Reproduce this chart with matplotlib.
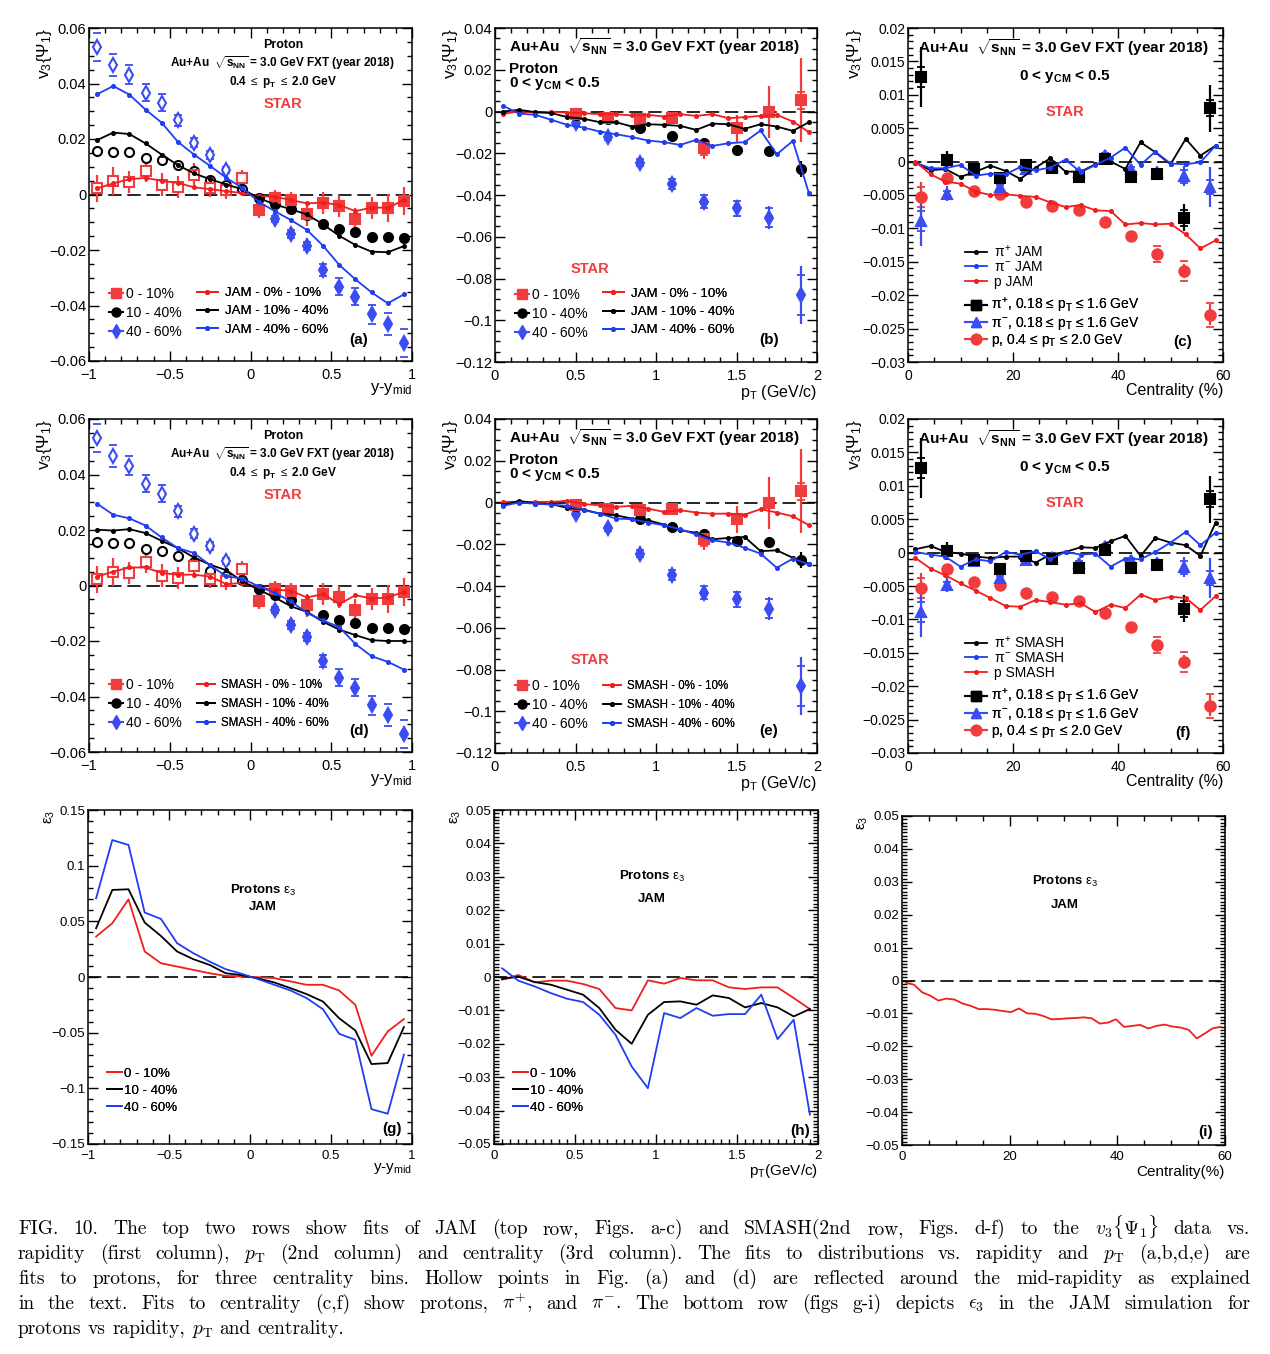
import numpy as np
import matplotlib
matplotlib.use('Agg')
import matplotlib.pyplot as plt
from matplotlib.ticker import MultipleLocator, FuncFormatter
from matplotlib.lines import Line2D

plt.rcParams['font.family'] = ['Liberation Sans', 'DejaVu Sans']
plt.rcParams['mathtext.fontset'] = 'custom'
plt.rcParams['mathtext.rm'] = 'Liberation Sans'
plt.rcParams['mathtext.it'] = 'Liberation Sans'
plt.rcParams['mathtext.bf'] = 'Liberation Sans:bold'
plt.rcParams['mathtext.sf'] = 'Liberation Sans'
plt.rcParams['axes.unicode_minus'] = True

# ---------------- DATA ----------------
# rapidity bins (y - y_mid)
y_bins = [-0.95, -0.85, -0.75, -0.65, -0.55, -0.45, -0.35, -0.25, -0.15, -0.05,
          0.05, 0.15, 0.25, 0.35, 0.45, 0.55, 0.65, 0.75, 0.85, 0.95]
# STAR proton v3 vs rapidity
star_y_0010 = [0.0022, 0.0048, 0.0046, 0.0086, 0.0036, 0.0028, 0.0072, 0.0022, 0.0015, 0.0058,
               -0.0056, -0.0012, -0.0020, -0.0072, -0.0032, -0.0040, -0.0089, -0.0048, -0.0048, -0.0024]
star_y_0010_err = [0.005, 0.005, 0.004, 0.004, 0.004, 0.004, 0.004, 0.003, 0.003, 0.003,
                   0.003, 0.003, 0.003, 0.004, 0.004, 0.004, 0.004, 0.004, 0.005, 0.005]
star_y_1040 = [0.0156, 0.0154, 0.0154, 0.0133, 0.0124, 0.0108, 0.0086, 0.0053, 0.0036, 0.0019,
               -0.0014, -0.0036, -0.0053, -0.0074, -0.0108, -0.0126, -0.0136, -0.0154, -0.0154, -0.0157]
star_y_1040_err = [0.0005] * 20
star_y_4060 = [0.0532, 0.0468, 0.0432, 0.0367, 0.0331, 0.0268, 0.0187, 0.0142, 0.0088, 0.0052,
               -0.0050, -0.0089, -0.0143, -0.0185, -0.0272, -0.0332, -0.0368, -0.0432, -0.0468, -0.0534]
star_y_4060_err = [0.0008] * 20
star_y_4060_sys = [0.005, 0.004, 0.0035, 0.003, 0.003, 0.002, 0.0015, 0.0015, 0.001, 0.001,
                   0.001, 0.001, 0.0015, 0.0015, 0.002, 0.003, 0.003, 0.0035, 0.004, 0.005]

# JAM / SMASH model v3 vs rapidity
jam_y_0010 = [0.0022, 0.0040, 0.0055, 0.0060, 0.0049, 0.0042, 0.0026, 0.0019, 0.0012, 0.0005,
              -0.0006, -0.0008, -0.0020, -0.0032, -0.0029, -0.0038, -0.0060, -0.0047, -0.0048, -0.0020]
jam_y_1040 = [0.0196, 0.0223, 0.0218, 0.0184, 0.0144, 0.0106, 0.0076, 0.0055, 0.0036, 0.0019,
              -0.0012, -0.0036, -0.0053, -0.0072, -0.0108, -0.0149, -0.0182, -0.0206, -0.0208, -0.0186]
jam_y_4060 = [0.0361, 0.0391, 0.0360, 0.0306, 0.0259, 0.0190, 0.0144, 0.0103, 0.0060, 0.0024,
              -0.0026, -0.0060, -0.0092, -0.0128, -0.0185, -0.0254, -0.0306, -0.0353, -0.0392, -0.0360]
smash_y_0010 = [0.0032, 0.0050, 0.0065, 0.0065, 0.0045, 0.0039, 0.0039, 0.0032, 0.0005, 0.0009,
                -0.0007, -0.0015, -0.0019, -0.0043, -0.0031, -0.0067, -0.0035, -0.0047, -0.0043, -0.0023]
smash_y_1040 = [0.0201, 0.0198, 0.0203, 0.0189, 0.0161, 0.0135, 0.0101, 0.0075, 0.0055, 0.0015,
                -0.0015, -0.0043, -0.0075, -0.0095, -0.0131, -0.0159, -0.0179, -0.0197, -0.0200, -0.0200]
smash_y_4060 = [0.0295, 0.0255, 0.0242, 0.0216, 0.0173, 0.0135, 0.0117, 0.0073, 0.0033, 0.0025,
                -0.0003, -0.0027, -0.0057, -0.0099, -0.0126, -0.0150, -0.0211, -0.0255, -0.0275, -0.0303]

# STAR proton v3 vs pT
pt_star = [0.5, 0.7, 0.9, 1.1, 1.3, 1.5, 1.7, 1.9]
star_pt_0010 = [-0.0010, -0.0030, -0.0035, -0.0032, -0.0176, -0.0080, -0.0003, 0.0054]
star_pt_0010_err = [0.001, 0.0015, 0.002, 0.003, 0.005, 0.0065, 0.0125, 0.020]
star_pt_0010_sys = [0.0005, 0.0008, 0.001, 0.0015, 0.003, 0.002, 0.002, 0.004]
star_pt_1040 = [-0.0016, -0.0037, -0.0080, -0.0115, -0.0149, -0.0186, -0.0189, -0.0275]
star_pt_1040_err = [0.0005, 0.0006, 0.0007, 0.0008, 0.001, 0.0012, 0.002, 0.004]
star_pt_4060 = [-0.0056, -0.0123, -0.0245, -0.0346, -0.0432, -0.0464, -0.0509, -0.0880]
star_pt_4060_err = [0.001, 0.0012, 0.0015, 0.002, 0.0025, 0.004, 0.0055, 0.014]
star_pt_4060_sys = [0.001, 0.0012, 0.0018, 0.0025, 0.003, 0.0035, 0.0045, 0.0095]

# model v3 vs pT
pt_mod = [0.05, 0.15, 0.25, 0.35, 0.45, 0.55, 0.65, 0.75, 0.85, 0.95,
          1.05, 1.15, 1.25, 1.35, 1.45, 1.55, 1.65, 1.75, 1.85, 1.95]
jam_pt_0010 = [-0.0011, 0.0000, -0.0005, -0.0002, -0.0005, -0.0008, -0.0013, -0.0013, -0.0019, -0.0016,
               -0.0024, -0.0013, -0.0021, -0.0013, -0.0032, -0.0027, -0.0021, -0.0016, -0.0048, -0.0099]
jam_pt_1040 = [0.0000, 0.0008, -0.0003, -0.0008, -0.0027, -0.0035, -0.0051, -0.0051, -0.0072, -0.0061,
               -0.0064, -0.0069, -0.0088, -0.0058, -0.0061, -0.0083, -0.0061, -0.0072, -0.0093, -0.0051]
jam_pt_4060 = [0.0027, -0.0010, -0.0016, -0.0040, -0.0064, -0.0077, -0.0096, -0.0109, -0.0122, -0.0139,
               -0.0147, -0.0160, -0.0136, -0.0165, -0.0152, -0.0147, -0.0091, -0.0205, -0.0141, -0.0392]
smash_pt_0010 = [0.0003, 0.0003, 0.0003, 0.0003, 0.0008, -0.0008, -0.0013, -0.0021, -0.0016, -0.0029,
                 -0.0045, -0.0037, -0.0048, -0.0054, -0.0053, -0.0058, -0.0032, -0.0048, -0.0066, -0.0109]
smash_pt_1040 = [-0.0013, 0.0008, -0.0005, -0.0008, -0.0026, -0.0034, -0.0053, -0.0061, -0.0077, -0.0085,
                 -0.0106, -0.0133, -0.0145, -0.0176, -0.0170, -0.0165, -0.0233, -0.0229, -0.0265, -0.0293]
smash_pt_4060 = [-0.0016, 0.0000, -0.0006, -0.0010, -0.0016, -0.0037, -0.0053, -0.0077, -0.0080, -0.0096,
                 -0.0109, -0.0128, -0.0153, -0.0181, -0.0192, -0.0217, -0.0245, -0.0313, -0.0269, -0.0297]

# STAR v3 vs centrality
cent_star = [2.5, 7.5, 12.5, 17.5, 22.5, 27.5, 32.5, 37.5, 42.5, 47.5, 52.5, 57.5]
star_c_pip = [0.0126, 0.00025, -0.0011, -0.0025, -0.0005, -0.0009, -0.0023, 0.0004, -0.0023, -0.0018, -0.0084, 0.0080]
star_c_pip_err = [0.0045, 0.0013, 0.0008, 0.0008, 0.0006, 0.0006, 0.0006, 0.0006, 0.0008, 0.0009, 0.0020, 0.0035]
star_c_pip_sys = [0.0015, 0.0004, 0.0003, 0.0003, 0.0003, 0.0003, 0.0003, 0.0003, 0.0003, 0.0004, 0.0012, 0.0012]
star_c_pim = [-0.0089, -0.0048, -0.0013, -0.0038, -0.0011, -0.0006, -0.0016, 0.0010, -0.0011, -0.0016, -0.0022, -0.0038]
star_c_pim_err = [0.0037, 0.0011, 0.0008, 0.0008, 0.0006, 0.0006, 0.0006, 0.0006, 0.0008, 0.0009, 0.0015, 0.0030]
star_c_pim_sys = [0.0015, 0.0004, 0.0003, 0.0003, 0.0003, 0.0003, 0.0003, 0.0003, 0.0003, 0.0004, 0.0010, 0.0010]
star_c_p = [-0.0053, -0.0025, -0.0044, -0.0048, -0.0060, -0.0066, -0.0073, -0.0090, -0.0112, -0.0139, -0.0164, -0.0229]
star_c_p_err = [0.0023, 0.0005, 0.0004, 0.0004, 0.0004, 0.0004, 0.0004, 0.0005, 0.0005, 0.0008, 0.0010, 0.0016]
star_c_p_sys = [0.0015, 0.0003, 0.0003, 0.0003, 0.0003, 0.0003, 0.0003, 0.0004, 0.0005, 0.0012, 0.0015, 0.0018]

# model v3 vs centrality
cent_mod = [1.4, 4.3, 7.1, 10.0, 12.9, 15.7, 18.6, 21.4, 24.3, 27.1, 30.0,
            32.9, 35.7, 38.6, 41.4, 44.3, 47.1, 50.0, 52.9, 55.7, 58.6]
jam_c_pip = [-0.00015, -0.0013, -0.0011, -0.0023, -0.0015, -0.0006, -0.0014, -0.0026, -0.0009, 0.0005, -0.0015,
             -0.0015, -0.0004, 0.0000, -0.0011, 0.0029, 0.0014, -0.0004, 0.0034, 0.0009, 0.0024]
jam_c_pim = [-0.00015, -0.0010, -0.0010, -0.0005, -0.0021, -0.0018, -0.0019, -0.0008, -0.0013, -0.0009, 0.0003,
             -0.0016, -0.0005, 0.0006, 0.0021, -0.0005, 0.0015, -0.0003, -0.0004, -0.0001, 0.0024]
jam_c_p = [0.0000, -0.0019, -0.0030, -0.0033, -0.0045, -0.0050, -0.0049, -0.0051, -0.0053, -0.0061, -0.0068,
           -0.0065, -0.0073, -0.0074, -0.0094, -0.0092, -0.0094, -0.0093, -0.0109, -0.0130, -0.0118]
smash_c_pip = [0.0005, 0.0010, 0.0001, -0.00015, -0.0006, -0.0008, -0.0006, -0.0006, -0.0015, -0.0003, 0.0001,
               0.0008, 0.0007, 0.0017, 0.0025, -0.0005, 0.0022, 0.0015, 0.0011, -0.0005, 0.0045]
smash_c_pim = [0.0001, -0.0003, -0.0006, -0.0021, -0.0010, -0.0013, 0.0001, -0.0003, 0.0002, -0.0010, 0.0001,
               -0.0003, -0.00015, -0.0021, -0.0009, -0.0010, 0.0001, 0.0015, 0.0031, 0.0011, 0.0030]
smash_c_p = [-0.0008, -0.0024, -0.0034, -0.0046, -0.0057, -0.0068, -0.0080, -0.0081, -0.0071, -0.0074, -0.0078,
             -0.0076, -0.0089, -0.0078, -0.0083, -0.0063, -0.0071, -0.0066, -0.0068, -0.0086, -0.0065]

# JAM epsilon_3
eps_y_0010 = [0.0363, 0.0483, 0.0698, 0.0229, 0.0124, 0.0094, 0.0064, 0.0034, 0.0010, 0.0004,
              -0.0002, -0.0010, -0.0040, -0.0070, -0.0070, -0.0121, -0.0250, -0.0707, -0.0489, -0.0378]
eps_y_1040 = [0.0438, 0.0782, 0.0788, 0.0489, 0.0369, 0.0229, 0.0160, 0.0109, 0.0034, 0.0016,
              -0.0013, -0.0049, -0.0100, -0.0154, -0.0220, -0.0370, -0.0480, -0.0782, -0.0773, -0.0450]
eps_y_4060 = [0.0707, 0.1230, 0.1186, 0.0579, 0.0522, 0.0304, 0.0214, 0.0139, 0.0070, 0.0028,
              -0.0019, -0.0070, -0.0121, -0.0190, -0.0289, -0.0510, -0.0564, -0.1187, -0.1228, -0.0698]
eps_pt_0010 = [-0.0008, 0.0006, -0.0016, -0.0011, -0.0011, -0.0021, -0.0036, -0.0093, -0.0100, -0.0010,
               -0.0020, -0.0003, -0.0010, -0.0010, -0.0031, -0.0036, -0.0031, -0.0031, -0.0063, -0.0096]
eps_pt_1040 = [-0.0006, 0.0001, -0.0015, -0.0023, -0.0038, -0.0053, -0.0093, -0.0158, -0.0200, -0.0113,
               -0.0075, -0.0073, -0.0083, -0.0055, -0.0063, -0.0091, -0.0078, -0.0091, -0.0118, -0.0096]
eps_pt_4060 = [0.0026, -0.0011, -0.0028, -0.0048, -0.0065, -0.0075, -0.0113, -0.0173, -0.0268, -0.0333,
               -0.0108, -0.0123, -0.0093, -0.0116, -0.0111, -0.0111, -0.0053, -0.0186, -0.0128, -0.0412]
cent_eps = [0.75, 2.25, 3.75, 5.25, 6.75, 8.25, 9.75, 11.25, 12.75, 14.25, 15.75, 17.25, 18.75, 20.25,
            21.75, 23.25, 24.75, 26.25, 27.75, 29.25, 30.75, 32.25, 33.75, 35.25, 36.75, 38.25, 39.75,
            41.25, 42.75, 44.25, 45.75, 47.25, 48.75, 50.25, 51.75, 53.25, 54.75, 56.25, 57.75, 59.25]
eps_cent = [-0.0007, -0.0013, -0.0036, -0.0046, -0.0061, -0.0055, -0.0058, -0.0070, -0.0077, -0.0087,
            -0.0087, -0.0089, -0.0093, -0.0096, -0.0085, -0.0100, -0.0101, -0.0108, -0.0118, -0.0117,
            -0.0115, -0.0114, -0.0112, -0.0115, -0.0131, -0.0128, -0.0118, -0.0141, -0.0138, -0.0135,
            -0.0146, -0.0138, -0.0134, -0.0140, -0.0143, -0.0150, -0.0176, -0.0161, -0.0145, -0.0141]

cent_labels = ['0 - 10%', '10 - 40%', '40 - 60%']

# ---------------- STYLE ----------------
RED = '#f03c3c'
RED_M = '#f01e1e'
BLUE = '#3a4cf2'
BLUE_M = '#1f3ef2'
W, H = 1270, 1354

fig = plt.figure(figsize=(W / 100, H / 100), dpi=100)


def px_axes(l, t, r, b):
    return fig.add_axes([l / W, 1 - b / H, (r - l) / W, (b - t) / H])


def tick_fmt(v, pos):
    s = '%g' % round(v, 6)
    if s in ('-0', '0'):
        return '0'
    return s.replace('-', '\u2212')


def style(ax, xlim, ylim, xmaj, xmin, ymaj, ymin, fs=10.5, zero=True, xpad=5):
    ax.set_xlim(*xlim)
    ax.set_ylim(*ylim)
    ax.xaxis.set_major_locator(MultipleLocator(xmaj))
    ax.xaxis.set_minor_locator(MultipleLocator(xmin))
    ax.yaxis.set_major_locator(MultipleLocator(ymaj))
    ax.yaxis.set_minor_locator(MultipleLocator(ymin))
    ax.xaxis.set_major_formatter(FuncFormatter(tick_fmt))
    ax.yaxis.set_major_formatter(FuncFormatter(tick_fmt))
    ax.tick_params(which='both', direction='in', top=True, right=True, width=1.0)
    ax.tick_params(which='major', length=7, labelsize=fs)
    ax.tick_params(which='minor', length=3.5)
    ax.tick_params(axis='y', pad=2)
    ax.tick_params(axis='x', pad=xpad)
    for sp in ax.spines.values():
        sp.set_linewidth(1.1)
    if zero:
        ax.axhline(0, color='k', lw=1.2, ls=(0, (8, 3.5)), zorder=1)


def ylab(ax, txt, x, fs=12.5):
    ax.text(x, 1.0, txt, rotation=90, ha='center', va='top', transform=ax.transAxes, fontsize=fs)


def xlab(ax, txt, y, fs=12):
    ax.text(1.0, y, txt, ha='right', va='top', transform=ax.transAxes, fontsize=fs)


def data_pts(ax, x, y, err, color, marker, ms, hollow_mask=None, sys=None, zo=4):
    x = np.asarray(x)
    y = np.asarray(y)
    err = np.asarray(err)
    if sys is not None:
        ax.errorbar(x, y, yerr=sys, fmt='none', ecolor=color, elinewidth=0, capsize=3.2,
                    capthick=1.3, zorder=zo)
    if hollow_mask is None:
        hollow_mask = np.zeros(len(x), bool)
    hm = np.asarray(hollow_mask)
    for mask, face in ((~hm, color), (hm, 'white')):
        if mask.any():
            ax.errorbar(x[mask], y[mask], yerr=err[mask], fmt=marker, color=color, mfc=face,
                        mec=color, mew=1.5, ms=ms, elinewidth=1.6, capsize=0, zorder=zo)


def model(ax, x, y, color):
    ax.plot(x, y, '-o', color=color, lw=1.3, ms=2.6, zorder=5)


def legend(ax, handles, labels, x, ytop, fs, hl, htp, ls):
    leg = ax.legend(handles, labels, loc='upper left', bbox_to_anchor=(x, ytop),
                    bbox_transform=ax.transAxes, frameon=False, fontsize=fs, handlelength=hl,
                    handletextpad=htp, labelspacing=ls, borderpad=0, borderaxespad=0)
    ax.add_artist(leg)


def label_bold(ax, x, y, txt, fs, ha='center', color='black'):
    ax.text(x, y, txt, ha=ha, va='center', transform=ax.transAxes, fontsize=fs,
            fontweight='bold', color=color)


h_red = Line2D([], [], color=RED, marker='s', ms=6.5, lw=1.5)
h_blk = Line2D([], [], color='k', marker='o', ms=6.5, lw=1.5)
h_blu = Line2D([], [], color=BLUE, marker='d', ms=7, lw=1.5)
m_red = Line2D([], [], color=RED_M, marker='o', ms=2.6, lw=1.3)
m_blk = Line2D([], [], color='k', marker='o', ms=2.6, lw=1.3)
m_blu = Line2D([], [], color=BLUE_M, marker='o', ms=2.6, lw=1.3)

header = r'Au+Au  $\sqrt{\mathbf{s}_{\mathbf{NN}}}$ = 3.0 GeV FXT (year 2018)'
ycm = r'0 < $\mathbf{y}_{\mathbf{CM}}$ < 0.5'
v3lab = r'v$_{3}${$\Psi_{1}$}'

# ---------------- rapidity panels (a), (d) ----------------
for row, (mod_name, m0, m1, m2, tag, tfs) in enumerate([
        ('JAM', jam_y_0010, jam_y_1040, jam_y_4060, '(a)', 9.5),
        ('SMASH', smash_y_0010, smash_y_1040, smash_y_4060, '(d)', 8.3)]):
    off = row * 391
    ax = px_axes(89, 28 + off, 412, 361 + off)
    style(ax, (-1, 1), (-0.06, 0.06), 0.5, 0.1, 0.02, 0.005)
    hollow = np.asarray(y_bins) < 0
    data_pts(ax, y_bins, star_y_4060, star_y_4060_err, BLUE, 'd', 7, hollow, star_y_4060_sys)
    data_pts(ax, y_bins, star_y_1040, star_y_1040_err, 'k', 'o', 6.5, hollow)
    data_pts(ax, y_bins, star_y_0010, star_y_0010_err, RED, 's', 6.5, hollow)
    model(ax, y_bins, m0, RED_M)
    model(ax, y_bins, m1, 'k')
    model(ax, y_bins, m2, BLUE_M)
    ylab(ax, v3lab, -0.138)
    xlab(ax, r'y-y$_{\rm mid}$', -0.06)
    label_bold(ax, 0.60, 0.949, 'Proton', 9)
    label_bold(ax, 0.60, 0.895, header, 8.5)
    label_bold(ax, 0.60, 0.838, r'0.4 $\leq$ $\mathbf{p}_{\mathbf{T}}$ $\leq$ 2.0 GeV', 8.5)
    label_bold(ax, 0.60, 0.772, 'STAR', 10.5, color=RED)
    label_bold(ax, 0.836, 0.063, tag, 11)
    legend(ax, [h_red, h_blk, h_blu], cent_labels, 0.062, 0.222, 10, 1.0, 0.25, 0.35)
    legend(ax, [m_red, m_blk, m_blu],
           [f'{mod_name} - 0% - 10%', f'{mod_name} - 10% - 40%', f'{mod_name} - 40% - 60%'],
           0.334, 0.222 if row == 0 else 0.219, tfs, 1.6, 0.5, 0.45 if row == 0 else 0.62)

# ---------------- pT panels (b), (e) ----------------
for row, (mod_name, m0, m1, m2, tag, tfs) in enumerate([
        ('JAM', jam_pt_0010, jam_pt_1040, jam_pt_4060, '(b)', 9.5),
        ('SMASH', smash_pt_0010, smash_pt_1040, smash_pt_4060, '(e)', 8.3)]):
    off = row * 391
    ax = px_axes(495, 28 + off, 817, 362 + off)
    style(ax, (0, 2), (-0.12, 0.04), 0.5, 0.1, 0.02, 0.005)
    data_pts(ax, pt_star, star_pt_4060, star_pt_4060_err, BLUE, 'd', 7, sys=star_pt_4060_sys)
    data_pts(ax, pt_star, star_pt_1040, star_pt_1040_err, 'k', 'o', 6.5)
    data_pts(ax, pt_star, star_pt_0010, star_pt_0010_err, RED, 's', 6.5, sys=star_pt_0010_sys)
    model(ax, pt_mod, m0, RED_M)
    model(ax, pt_mod, m1, 'k')
    model(ax, pt_mod, m2, BLUE_M)
    ylab(ax, v3lab, -0.137)
    xlab(ax, r'p$_{\rm T}$ (GeV/c)', -0.064, fs=11.5)
    label_bold(ax, 0.0435, 0.943, header, 11, ha='left')
    label_bold(ax, 0.0435, 0.878, 'Proton', 11, ha='left')
    label_bold(ax, 0.0435, 0.835, ycm, 11, ha='left')
    label_bold(ax, 0.295, 0.278, 'STAR', 10.5, color=RED)
    label_bold(ax, 0.851, 0.066, tag, 11)
    legend(ax, [h_red, h_blk, h_blu], cent_labels, 0.062, 0.222, 10, 1.0, 0.25, 0.35)
    legend(ax, [m_red, m_blk, m_blu],
           [f'{mod_name} - 0% - 10%', f'{mod_name} - 10% - 40%', f'{mod_name} - 40% - 60%'],
           0.335, 0.222 if row == 0 else 0.219, tfs, 1.6, 0.5, 0.45 if row == 0 else 0.62)

# ---------------- centrality panels (c), (f) ----------------
for row, (mod_name, m0, m1, m2, tag) in enumerate([
        ('JAM', jam_c_pip, jam_c_pim, jam_c_p, '(c)'),
        ('SMASH', smash_c_pip, smash_c_pim, smash_c_p, '(f)')]):
    off = row * 391
    ax = px_axes(908, 28 + off, 1223, 362 + off)
    style(ax, (0, 60), (-0.03, 0.02), 20, 5, 0.005, 0.001, fs=10)
    data_pts(ax, cent_star, star_c_p, star_c_p_err, RED, 'o', 7.5, sys=star_c_p_sys)
    data_pts(ax, cent_star, star_c_pim, star_c_pim_err, BLUE, '^', 7.5, sys=star_c_pim_sys)
    data_pts(ax, cent_star, star_c_pip, star_c_pip_err, 'k', 's', 7.5, sys=star_c_pip_sys)
    model(ax, cent_mod, m0, 'k')
    model(ax, cent_mod, m1, BLUE_M)
    model(ax, cent_mod, m2, RED_M)
    ylab(ax, v3lab, -0.17)
    xlab(ax, 'Centrality (%)', -0.064, fs=11.5)
    label_bold(ax, 0.032, 0.94, header, 11, ha='left')
    label_bold(ax, 0.498, 0.856, ycm, 11)
    label_bold(ax, 0.498, 0.749, 'STAR', 10.5, color=RED)
    label_bold(ax, 0.873, 0.06, tag, 11)
    legend(ax, [m_blk, m_blu, m_red],
           [rf'$\pi^{{+}}$ {mod_name}', rf'$\pi^{{-}}$ {mod_name}', f'p {mod_name}'],
           0.181, 0.355, 10, 1.6, 0.5, 0.05)
    hb = Line2D([], [], color='k', marker='s', ms=7.5, lw=1.5)
    ht = Line2D([], [], color=BLUE, marker='^', ms=7.5, lw=1.5)
    hc = Line2D([], [], color=RED, marker='o', ms=7.5, lw=1.5)
    legend(ax, [hb, ht, hc],
           [r'$\pi^{+}$, 0.18 ≤ p$_{\rm T}$ ≤ 1.6 GeV', r'$\pi^{-}$, 0.18 ≤ p$_{\rm T}$ ≤ 1.6 GeV',
            r'p, 0.4 ≤ p$_{\rm T}$ ≤ 2.0 GeV'],
           0.181, 0.198, 10, 1.6, 0.3, 0.0)

# ---------------- epsilon_3 panels (g), (h), (i) ----------------
eps_lab = r'$\epsilon_{3}$'
lh = [Line2D([], [], color=RED_M, lw=1.3), Line2D([], [], color='k', lw=1.3),
      Line2D([], [], color=BLUE_M, lw=1.3)]

ax = px_axes(88, 810, 412, 1144)
style(ax, (-1, 1), (-0.15, 0.15), 0.5, 0.1, 0.05, 0.01, fs=9.5, xpad=4)
ax.plot(y_bins, eps_y_0010, color=RED_M, lw=1.3, zorder=5)
ax.plot(y_bins, eps_y_1040, color='k', lw=1.3, zorder=5)
ax.plot(y_bins, eps_y_4060, color=BLUE_M, lw=1.3, zorder=5)
ylab(ax, eps_lab, -0.117, fs=11)
xlab(ax, r'y-y$_{\rm mid}$', -0.05, fs=11)
ax.text(0.54, 0.76, r'Protons $\epsilon_{3}$', ha='center', va='center', transform=ax.transAxes,
        fontsize=9.5, fontweight='bold')
label_bold(ax, 0.54, 0.71, 'JAM', 9.5)
label_bold(ax, 0.938, 0.045, '(g)', 11)
legend(ax, lh, cent_labels, 0.059, 0.228, 9.5, 1.1, 0.15, 0.35)

ax = px_axes(494, 810, 818, 1144)
style(ax, (0, 2), (-0.05, 0.05), 0.5, 0.05, 0.01, 0.001, fs=9.5, xpad=4)
ax.plot(pt_mod, eps_pt_0010, color=RED_M, lw=1.3, zorder=5)
ax.plot(pt_mod, eps_pt_1040, color='k', lw=1.3, zorder=5)
ax.plot(pt_mod, eps_pt_4060, color=BLUE_M, lw=1.3, zorder=5)
ylab(ax, eps_lab, -0.117, fs=11)
xlab(ax, r'p$_{\rm T}$(GeV/c)', -0.055, fs=11)
ax.text(0.488, 0.802, r'Protons $\epsilon_{3}$', ha='center', va='center', transform=ax.transAxes,
        fontsize=9.5, fontweight='bold')
label_bold(ax, 0.488, 0.734, 'JAM', 9.5)
label_bold(ax, 0.944, 0.039, '(h)', 11)
legend(ax, lh, cent_labels, 0.059, 0.228, 9.5, 1.1, 0.15, 0.35)

ax = px_axes(902, 816, 1225, 1145)
style(ax, (0, 60), (-0.05, 0.05), 20, 5, 0.01, 0.001, fs=9.5, xpad=4)
ax.plot(cent_eps, eps_cent, color=RED_M, lw=1.3, zorder=5)
ylab(ax, eps_lab, -0.12, fs=11)
xlab(ax, 'Centrality(%)', -0.06, fs=11)
ax.text(0.505, 0.802, r'Protons $\epsilon_{3}$', ha='center', va='center', transform=ax.transAxes,
        fontsize=9.5, fontweight='bold')
label_bold(ax, 0.505, 0.73, 'JAM', 9.5)
label_bold(ax, 0.941, 0.04, '(i)', 11)

# ---------------- caption (justified) ----------------
cap_lines = [
    r'FIG. 10.  The top two rows show fits of JAM (top row, Figs.  a-c) and SMASH(2nd row, Figs.  d-f) to the $v_3\{\Psi_1\}$ data vs.',
    r'rapidity (first column), $p_\mathrm{T}$ (2nd column) and centrality (3rd column). The fits to distributions vs. rapidity and $p_\mathrm{T}$ (a,b,d,e) are',
    r'fits to protons, for three centrality bins. Hollow points in Fig. (a) and (d) are reflected around the mid-rapidity as explained',
    r'in the text. Fits to centrality (c,f) show protons, $\pi^{+}$, and $\pi^{-}$. The bottom row (figs g-i) depicts $\epsilon_3$ in the JAM simulation for',
    r'protons vs rapidity, $p_\mathrm{T}$ and centrality.',
]
renderer = fig.canvas.get_renderer()
cap_left, cap_right = 18, 1250
cap_font = dict(family='cmr10', math_fontfamily='cm')


def widths(words, fs):
    out = []
    for w in words:
        t = fig.text(0, 0, w, fontsize=fs, **cap_font)
        out.append(t.get_window_extent(renderer).width)
        t.remove()
    return out


base = 14.0
nat = []
for ln in cap_lines[:4]:
    ws = widths(ln.split(), base)
    nat.append(sum(ws) + 0.333 * base * 100 / 72 * (len(ws) - 1))
fs_cap = min(base, base * (cap_right - cap_left) / max(nat) * 0.99)
for i, ln in enumerate(cap_lines):
    words = ln.split()
    ws = widths(words, fs_cap)
    ybase = 1 - (1234 + 25 * i) / H
    if i < 4:
        gap = ((cap_right - cap_left) - sum(ws)) / (len(words) - 1)
    else:
        gap = 0.333 * fs_cap * 100 / 72
    x = cap_left
    for w, wd in zip(words, ws):
        fig.text(x / W, ybase, w, fontsize=fs_cap, va='baseline', ha='left', **cap_font)
        x += wd + gap

fig.savefig('out.png', dpi=100)
